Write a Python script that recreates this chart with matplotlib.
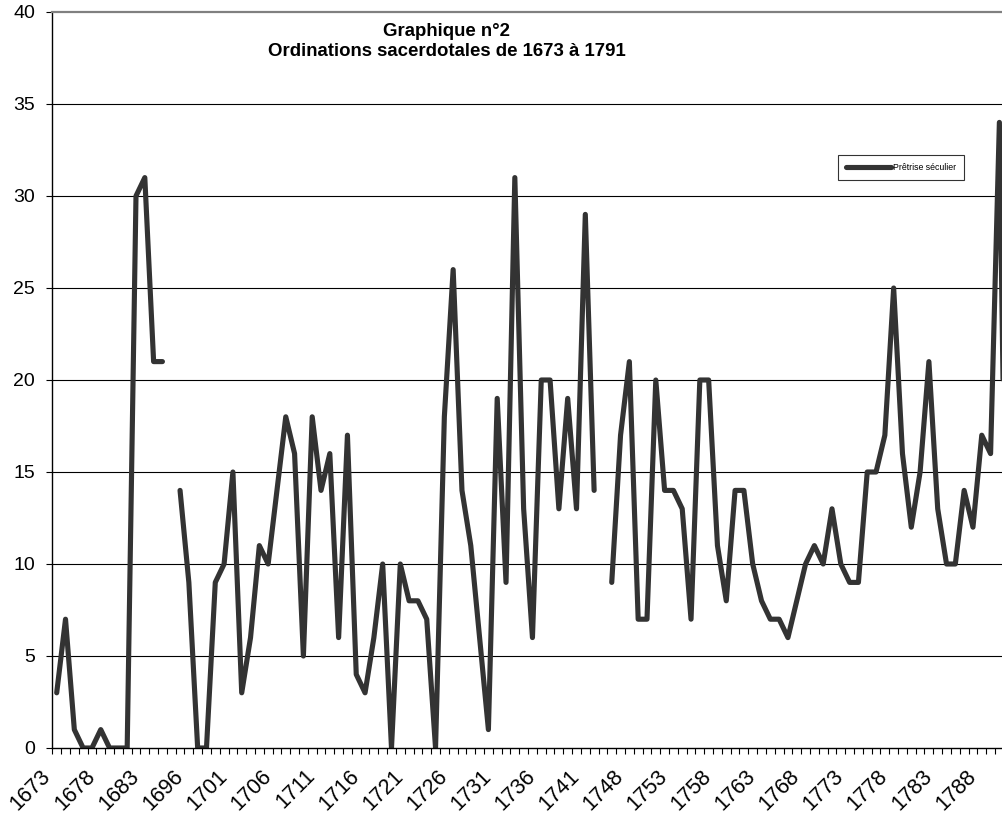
import numpy as np
import matplotlib
matplotlib.use("Agg")
import matplotlib.pyplot as plt
import matplotlib.transforms as mtransforms

plt.rcParams['font.family'] = ['Liberation Sans', 'DejaVu Sans']

# categories (years present in the source table)
years = ([str(y) for y in range(1673, 1687)] + ['1695'] +
         [str(y) for y in range(1696, 1744)] + ['1746', '1747'] +
         [str(y) for y in range(1748, 1792)])

nan = np.nan
values = [3, 7, 1, 0, 0, 1, 0, 0, 0, 30, 31, 21, 21, nan, 14,
          9, 0, 0, 9, 10,
          15, 3, 6, 11, 10, 14, 18, 16, 5, 18, 14, 16, 6, 17, 4, 3, 6, 10, 0, 10,
          8, 8, 7, 0, 18, 26, 14, 11, 6, 1, 19, 9, 31, 13, 6, 20, 20, 13, 19, 13,
          29, 14,
          nan,
          9, 17, 21, 7, 7, 20, 14, 14, 13, 7, 20, 20, 11, 8, 14, 14, 10, 8, 7, 7,
          6, 8, 10, 11, 10, 13, 10, 9, 9, 15, 15, 17, 25, 16, 12, 15, 21, 13, 10, 10,
          14, 12, 17, 16, 34, 0]

series_name = "Prêtrise séculier"
title_lines = ["Graphique n°2", "Ordinations sacerdotales de 1673 à 1791"]
yticks = [0, 5, 10, 15, 20, 25, 30, 35, 40]

W, H = 1003, 818
fig = plt.figure(figsize=(W / 100, H / 100), dpi=100)
left, right, top, bottom = 52.3, 1012.6, 12, 748
ax = fig.add_axes([left / W, 1 - bottom / H, (right - left) / W, (bottom - top) / H])

x = np.arange(len(years))
line, = ax.plot(x, values, color='#333333', lw=3.7, solid_joinstyle='round',
                solid_capstyle='round', label=series_name, clip_on=True)

ax.set_xlim(-0.5, len(years) - 0.5)
ax.set_ylim(0, 40)

# gridlines
for yv in yticks[1:-1]:
    ax.axhline(yv, color='black', lw=0.8, zorder=0.5)

ax.set_yticks(yticks)
ax.set_yticklabels([str(v) for v in yticks], fontsize=14)
ax.tick_params(axis='y', direction='out', length=4.3, width=0.8, pad=8, color='black')

ax.set_xticks(x[::5])
ax.set_xticklabels([years[i] for i in x[::5]], fontsize=15.5, rotation=45,
                   ha='right', va='center', rotation_mode='anchor')
ax.set_xticks(np.arange(-0.5, len(years), 1), minor=True)
ax.tick_params(axis='x', which='major', length=0, pad=18)
ax.tick_params(axis='x', which='minor', direction='out', length=4.3, width=0.8, color='black')
offset = mtransforms.ScaledTranslation(-9 / 100, 0, fig.dpi_scale_trans)
for lab in ax.get_xticklabels():
    lab.set_transform(lab.get_transform() + offset)

for s in ['left', 'bottom']:
    ax.spines[s].set_color('black')
    ax.spines[s].set_linewidth(1.0)
ax.spines['top'].set_color('#808080')
ax.spines['top'].set_linewidth(1.6)
ax.spines['right'].set_visible(False)

fig.text(447 / W, 1 - 31 / H, title_lines[0], ha='center', va='center',
         fontsize=13.4, fontweight='bold')
fig.text(447 / W, 1 - 51 / H, title_lines[1], ha='center', va='center',
         fontsize=13.4, fontweight='bold')

leg = fig.legend(handles=[line], labels=[series_name], loc='upper left',
                 bbox_to_anchor=(838 / W, 1 - 155 / H), borderaxespad=0,
                 fontsize=6.3, frameon=True, fancybox=False, handlelength=5.2,
                 handletextpad=0.15, borderpad=0.9)
leg.get_frame().set_edgecolor('black')
leg.get_frame().set_linewidth(0.8)

fig.savefig('out.png', dpi=100)
